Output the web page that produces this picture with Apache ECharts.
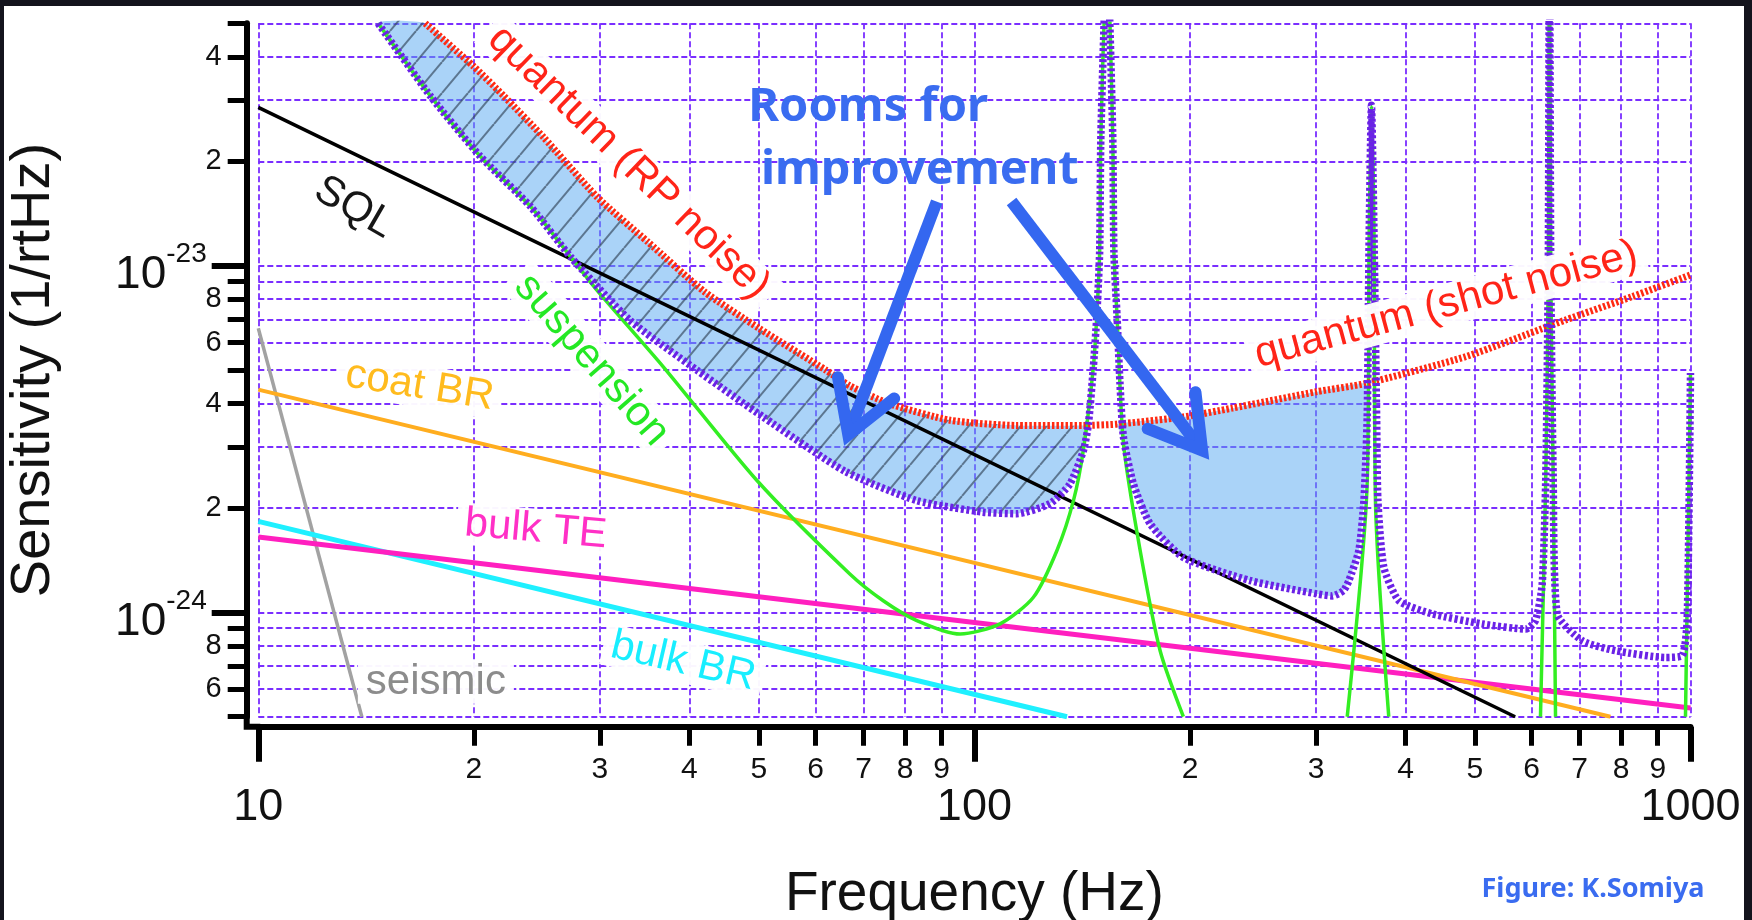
<!DOCTYPE html>
<html>
<head>
<meta charset="utf-8">
<script src="https://cdn.jsdelivr.net/npm/echarts@6.0.0/dist/echarts.min.js"></script>
<style>
html,body{margin:0;padding:0;width:1752px;height:920px;overflow:hidden;background:#14141d;}
#paper{position:absolute;left:4px;top:6px;width:1740px;height:914px;background:#ffffff;}
#chart{position:absolute;left:0;top:0;width:1752px;height:920px;}
</style>
</head>
<body>
<div id="paper"></div>
<div id="chart"></div>
<script>
// ---------- axis ticks / labels ----------
const xTickValues = [10,20,30,40,50,60,70,80,90,100,200,300,400,500,600,700,800,900,1000];
const xDecadeValues = [10,100,1000];
const xDigitLabels = [20,30,40,50,60,70,80,90,200,300,400,500,600,700,800,900];
const yTickValues = [5e-25,6e-25,7e-25,8e-25,9e-25,1e-24,2e-24,3e-24,4e-24,5e-24,6e-24,7e-24,8e-24,9e-24,1e-23,2e-23,3e-23,4e-23,5e-23];
const yDecadeValues = [1e-24,1e-23];
const yDigitLabels = [6e-25,8e-25,2e-24,4e-24,6e-24,8e-24,2e-23,4e-23];
const yRange = [5e-25, 5e-23];

// ---------- noise curves: frequency (Hz) / sensitivity (1/rtHz) ----------
const sqlFreq = [10, 569];
const sqlVals = [2.86e-23, 5.0e-25];

const coatFreq = [10, 773];
const coatVals = [4.39e-24, 5.0e-25];

const bulkTEFreq = [10, 1000];
const bulkTEVals = [1.65e-24, 5.3e-25];

const bulkBRFreq = [10, 134.7];
const bulkBRVals = [1.83e-24, 5.0e-25];

const seismicFreq = [10, 13.95];
const seismicVals = [6.6e-24, 5.0e-25];

const suspensionFreq = [14.7, 17.4, 20.4, 24.0, 27.3, 29.7, 36.8, 49.7, 67, 74.6, 83.1, 95.5, 108.6, 120.9, 130.4, 137.5, 142, 146.6, 148.2, 149.6, 150.2, 153.2, 156.0, 156.6, 158.2, 161.5, 170.4, 181.7, 195.8, 260, 331.6, 353.6, 355.8, 358.5, 361.5, 363.2, 379, 500, 617.3, 628, 633, 635.5, 638, 643, 647.9, 800, 984, 1000];
const suspensionVals = [5.0e-23, 3.08e-23, 2.07e-23, 1.48e-23, 1.06e-23, 8.5e-24, 5.1e-24, 2.4e-24, 1.29e-24, 1.08e-24, 9.47e-25, 8.66e-25, 9.26e-25, 1.105e-24, 1.508e-24, 2.1e-24, 2.95e-24, 5.1e-24, 7.13e-24, 1.1e-23, 2.4e-23, 8e-23, 2.4e-23, 1.1e-23, 7.13e-24, 3.07e-24, 1.508e-24, 7.75e-25, 5.0e-25, null, 5.0e-25, 2.36e-24, 1.2e-23, 2.9e-23, 1.2e-23, 2.06e-24, 5.0e-25, null, 5.0e-25, 2.5e-24, 1e-23, 1e-22, 1e-23, 2.5e-24, 5.0e-25, null, 5.0e-25, 4.9e-24];

const totalFreq = [14.7, 17.4, 20.4, 24.0, 27.3, 33.0, 41.0, 50.7, 66, 83.1, 102.9, 114.6, 127.6, 136, 142, 144.3, 146.6, 148.2, 149.6, 150.2, 153.2, 156.0, 156.6, 158.2, 159.7, 161.5, 166.7, 176, 195.8, 242.7, 300.8, 316, 327.7, 333.4, 344.3, 349.9, 353.6, 355.8, 358.5, 361.5, 364.5, 366, 373, 391.6, 435.8, 511.7, 588.5, 607.6, 620.8, 628, 633, 635.5, 638, 643, 651.4, 706, 786, 923, 973.6, 989.5, 1000];
const totalVals = [5.0e-23, 3.08e-23, 2.07e-23, 1.48e-23, 1.06e-23, 6.97e-24, 4.99e-24, 3.66e-24, 2.55e-24, 2.1e-24, 1.945e-24, 1.925e-24, 2.06e-24, 2.35e-24, 2.93e-24, 3.5e-24, 5.1e-24, 7.13e-24, 1.1e-23, 2.4e-23, 8e-23, 2.4e-23, 1.1e-23, 7.13e-24, 4.57e-24, 3.2e-24, 2.35e-24, 1.8e-24, 1.44e-24, 1.235e-24, 1.13e-24, 1.115e-24, 1.156e-24, 1.235e-24, 1.51e-24, 2.1e-24, 3.66e-24, 1.2e-23, 2.9e-23, 1.2e-23, 3.66e-24, 2.1e-24, 1.35e-24, 1.08e-24, 9.9e-25, 9.26e-25, 8.95e-25, 9.47e-25, 1.21e-24, 2.5e-24, 1e-23, 1e-22, 1e-23, 2.5e-24, 9.9e-25, 8.28e-25, 7.75e-25, 7.41e-25, 7.5e-25, 9.6e-25, 4.9e-24];

const quantumFreq = [17.1, 20, 22, 25, 29.7, 35, 42, 50, 62, 67, 76, 92.5, 114.6, 142, 158, 195.8, 229, 300.8, 351.6, 485, 669, 829, 1000];
const quantumVals = [5.0e-23, 3.75e-23, 3.09e-23, 2.35e-23, 1.58e-23, 1.17e-23, 8.4e-24, 6.6e-24, 5.0e-24, 4.5e-24, 4.0e-24, 3.58e-24, 3.46e-24, 3.46e-24, 3.49e-24, 3.66e-24, 3.88e-24, 4.33e-24, 4.57e-24, 5.46e-24, 6.97e-24, 8.14e-24, 9.4e-24];

// "rooms for improvement": frequency bands between quantum (upper) and total (lower)
const roomBands = [
  {upper: [14, 145], lower: [14, 145], hatch: true},
  {upper: [158, 352], lower: [161, 354], hatch: false}
];

// ---------- annotations (anchored in data coordinates) ----------
const curveLabels = [
  {text: 'SQL', f: 13.6, v: 1.47e-23, rot: 30, color: '#161616'},
  {text: 'quantum (RP noise)', f: 32.9, v: 1.98e-23, rot: 44, color: '#ff2418'},
  {text: 'suspension', f: 29.2, v: 5.34e-24, rot: 49, color: '#24e824'},
  {text: 'coat BR', f: 16.8, v: 4.49e-24, rot: 9, color: '#ffbb1e'},
  {text: 'bulk TE', f: 24.4, v: 1.73e-24, rot: 5, color: '#ff30c6'},
  {text: 'bulk BR', f: 39.2, v: 7.2e-25, rot: 13, color: '#18eeff'},
  {text: 'seismic', f: 17.7, v: 6.26e-25, rot: 0, color: '#8c8c8c'},
  {text: 'quantum (shot noise)', f: 456, v: 7.7e-24, rot: -15, color: '#ff2418'}
];
const calloutLines = [
  {text: 'Rooms for', f: 71.06, v: 2.857e-23},
  {text: 'improvement', f: 83.9, v: 1.878e-23}
];
const arrowTails = [[88.6, 1.531e-23], [112.7, 1.531e-23]];
const arrowTips = [[66.36, 3.17e-24], [209.6, 2.87e-24]];

// ---------- helpers ----------
// the y axis works in units of 1e-24 /rtHz (ECharts rounds very small custom tick values away)
const Y_UNIT = 1e-24;
const toUnit = v => Math.round(v / Y_UNIT * 1e6) / 1e6;

function leadDigit(v) {
  const e = Math.floor(Math.log10(v) + 1e-9);
  return String(Math.round(v / Math.pow(10, e)));
}
function pairs(fs, vs) {
  return fs.map((f, i) => [f, vs[i] === null ? '-' : toUnit(vs[i])]);
}

const hatch = document.createElement('canvas');
hatch.width = 26; hatch.height = 31;
(function () {
  const c = hatch.getContext('2d');
  c.strokeStyle = 'rgba(45,62,80,0.62)';
  c.lineWidth = 2;
  for (const off of [-26, 0, 26]) {
    c.beginPath();
    c.moveTo(off, 31);
    c.lineTo(off + 26, 0);
    c.stroke();
  }
})();

const FONT = '"Liberation Sans", Arial, sans-serif';
const gridLine = {show: true, lineStyle: {color: '#7a2eff', width: 1.8, type: [6, 3]}};

function lineSeries(name, fs, vs, color, width, dash, z, smooth) {
  return {
    type: 'line', name: name, xAxisIndex: 0, yAxisIndex: 0,
    data: pairs(fs, vs), showSymbol: false, symbol: 'none', clip: true,
    connectNulls: false, silent: true, z: z || 2, smooth: smooth || false,
    lineStyle: {color: color, width: width, type: dash || 'solid', cap: 'butt', join: 'round'}
  };
}

const chart = echarts.init(document.getElementById('chart'), null, {renderer: 'canvas'});

const option = {
  animation: false,
  backgroundColor: 'transparent',
  grid: {left: 258.3, right: 61.5, top: 23.3, bottom: 203.3, containLabel: false, outerBoundsMode: 'none'},
  xAxis: [
    {
      type: 'log', logBase: 10, min: 10, max: 1000, position: 'bottom', offset: 10,
      name: 'Frequency (Hz)', nameLocation: 'middle', nameGap: 141,
      nameTextStyle: {fontSize: 55, color: '#111', fontFamily: FONT},
      axisLine: {show: true, onZero: false, lineStyle: {color: '#000', width: 6}},
      axisTick: {show: true, inside: false, length: 19, customValues: xTickValues, lineStyle: {color: '#000', width: 5}},
      axisLabel: {show: true, customValues: xDigitLabels, margin: 28, hideOverlap: false,
        formatter: leadDigit, fontSize: 30, color: '#111', fontFamily: FONT},
      splitLine: gridLine,
      minorTick: {show: false}, minorSplitLine: {show: false}
    },
    {
      type: 'log', logBase: 10, min: 10, max: 1000, position: 'bottom', offset: 10,
      axisLine: {show: false, onZero: false},
      axisTick: {show: true, inside: false, length: 35, customValues: xDecadeValues, lineStyle: {color: '#000', width: 6}},
      axisLabel: {show: true, customValues: xDecadeValues, margin: 58, hideOverlap: false,
        formatter: v => String(Math.round(v)), fontSize: 45, color: '#111', fontFamily: FONT},
      splitLine: {show: false}
    }
  ],
  yAxis: [
    {
      type: 'log', logBase: 10, min: toUnit(yRange[0]), max: toUnit(yRange[1]), position: 'left', offset: 11.6,
      name: 'Sensitivity (1/rtHz)', nameLocation: 'middle', nameGap: 185,
      nameTextStyle: {fontSize: 56, color: '#111', fontFamily: FONT},
      axisLine: {show: true, onZero: false, lineStyle: {color: '#000', width: 6}},
      axisTick: {show: true, inside: false, length: 19, customValues: yTickValues.map(toUnit), lineStyle: {color: '#000', width: 5}},
      axisLabel: {show: true, customValues: yDigitLabels.map(toUnit), margin: 25, hideOverlap: false,
        formatter: leadDigit, fontSize: 29, color: '#111', fontFamily: FONT},
      splitLine: gridLine,
      minorTick: {show: false}, minorSplitLine: {show: false}
    },
    {
      type: 'log', logBase: 10, min: toUnit(yRange[0]), max: toUnit(yRange[1]), position: 'left', offset: 11.6,
      axisLine: {show: false, onZero: false},
      axisTick: {show: true, inside: false, length: 35, customValues: yDecadeValues.map(toUnit), lineStyle: {color: '#000', width: 6}},
      axisLabel: {show: true, customValues: yDecadeValues.map(toUnit), margin: 40, hideOverlap: false,
        padding: [20, 0, 0, 0],
        formatter: v => '{a|10}{b|' + Math.round(Math.log10(v * Y_UNIT)) + '}',
        rich: {
          a: {fontSize: 46, lineHeight: 70, color: '#111', fontFamily: FONT},
          b: {fontSize: 28, lineHeight: 28, color: '#111', fontFamily: FONT, verticalAlign: 'top'}
        }},
      splitLine: {show: false}
    }
  ],
  series: [
    lineSeries('seismic', seismicFreq, seismicVals, '#a2a2a2', 3.5),
    lineSeries('bulk BR', bulkBRFreq, bulkBRVals, '#1ff0ff', 5),
    lineSeries('bulk TE', bulkTEFreq, bulkTEVals, '#ff1fbf', 5),
    lineSeries('coat BR', coatFreq, coatVals, '#ffad1f', 4),
    lineSeries('SQL', sqlFreq, sqlVals, '#000000', 3.5),
    {
      type: 'custom', name: 'rooms', xAxisIndex: 0, yAxisIndex: 0, silent: true, z: 2,
      data: roomBands.map(b => [b.upper[0], 1]),
      renderItem: function (params, api) {
        const b = roomBands[params.dataIndex];
        const pts = [];
        quantumFreq.forEach((f, i) => {
          if (f >= b.upper[0] && f <= b.upper[1]) pts.push(api.coord([f, toUnit(quantumVals[i])]));
        });
        for (let i = totalFreq.length - 1; i >= 0; i--) {
          const f = totalFreq[i];
          if (f >= b.lower[0] && f <= b.lower[1]) pts.push(api.coord([f, toUnit(totalVals[i])]));
        }
        const children = [{type: 'polygon', shape: {points: pts, smooth: 0.15}, style: {fill: 'rgba(85,167,241,0.5)'}}];
        if (b.hatch) children.push({type: 'polygon', shape: {points: pts, smooth: 0.15}, style: {fill: {image: hatch, repeat: 'repeat'}}});
        return {type: 'group', children: children};
      }
    },
    lineSeries('suspension', suspensionFreq, suspensionVals, '#33ee22', 3.5, null, 2, 0.25),
    lineSeries('quantum', quantumFreq, quantumVals, '#ff2a12', 7, [2.5, 2], 2, 0.2),
    lineSeries('total', totalFreq, totalVals, '#6a22e6', 7.5, [3, 2.5], 3, 0.2)
  ]
};

chart.setOption(option);

// ---------- annotations placed through the chart's own scales ----------
const toPx = (f, v) => chart.convertToPixel({xAxisIndex: 0, yAxisIndex: 0}, [f, toUnit(v)]);
const els = [];
curveLabels.forEach(l => {
  const p = toPx(l.f, l.v);
  els.push({
    type: 'text', x: p[0], y: p[1], rotation: -l.rot * Math.PI / 180, z: 100,
    style: {text: l.text, fill: l.color, font: '42px ' + FONT, align: 'center', verticalAlign: 'middle',
      backgroundColor: 'rgba(255,255,255,0.96)', padding: [0, 8]}
  });
});
calloutLines.forEach(l => {
  const p = toPx(l.f, l.v);
  els.push({
    type: 'text', x: p[0], y: p[1], z: 101,
    style: {text: l.text, fill: '#3a6cf0', font: 'bold 47px "Noto Sans", sans-serif', align: 'center', verticalAlign: 'middle'}
  });
});
arrowTails.forEach((t, i) => {
  const a = toPx(t[0], t[1]);
  const b = toPx(arrowTips[i][0], arrowTips[i][1]);
  const dx = a[0] - b[0], dy = a[1] - b[1], L = Math.hypot(dx, dy);
  const ux = dx / L, uy = dy / L, ang = 29 * Math.PI / 180, len = 62;
  const r = s => [b[0] + len * (ux * Math.cos(s) - uy * Math.sin(s)), b[1] + len * (ux * Math.sin(s) + uy * Math.cos(s))];
  els.push({type: 'line', z: 102, shape: {x1: a[0], y1: a[1], x2: b[0] + ux * 4, y2: b[1] + uy * 4},
    style: {stroke: '#3467f0', lineWidth: 12, lineCap: 'butt'}});
  els.push({type: 'polyline', z: 102, shape: {points: [r(ang), [b[0] + ux * 4, b[1] + uy * 4], r(-ang)]},
    style: {stroke: '#3467f0', lineWidth: 12, fill: null, lineJoin: 'miter', lineCap: 'round'}});
});
// axis corner (axes are offset from the plotting area)
const c0 = toPx(10, yRange[0]);
const yAxisX = c0[0] - 11.6, xAxisY = c0[1] + 10;
els.push({type: 'polyline', z: 99, shape: {points: [[yAxisX, c0[1] - 2], [yAxisX, xAxisY], [c0[0] + 2, xAxisY]]},
  style: {stroke: '#000', lineWidth: 6, fill: null, lineJoin: 'miter'}});
// credit
els.push({type: 'text', x: 1593, y: 889, z: 100,
  style: {text: 'Figure: K.Somiya', fill: '#3a6cf0', font: 'bold 27px "Noto Sans", sans-serif', align: 'center', verticalAlign: 'middle'}});

chart.setOption({graphic: {elements: els}});
</script>
</body>
</html>
